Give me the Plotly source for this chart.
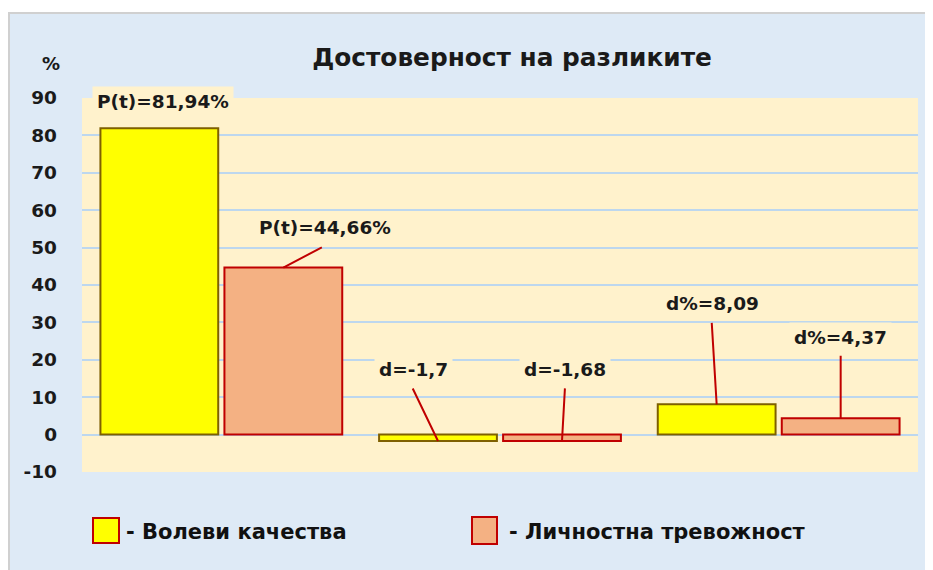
import plotly.graph_objects as go

categories = ["P(t)", "d", "d%"]
series_names = ["- Волеви качества", "- Личностна тревожност"]
volevi = [81.94, -1.7, 8.09]
trevojnost = [44.66, -1.68, 4.37]
labels_volevi = ["P(t)=81,94%", "d=-1,7", "d%=8,09"]
labels_trev = ["P(t)=44,66%", "d=-1,68", "d%=4,37"]
y_ticks = [-10, 0, 10, 20, 30, 40, 50, 60, 70, 80, 90]
title = "Достоверност на разликите"

FONT = "'DejaVu Sans', Verdana, sans-serif"
TXT = "#1a1a1a"
CREAM = "#FFF2CC"
BLUE_BG = "#DEEAF6"
GRID = "#BDD7EE"
YELLOW = "#FFFF00"
YELLOW_LINE = "#7F6000"
SALMON = "#F4B183"
RED = "#C00000"
BARGAP = 0.11
BARGROUPGAP = 0.05

# page has 8px body margin: figure pixel = page pixel - 8
W, H = 933, 562
L, T = 74, 90
R = W - 910
B = H - 464
PW, PH = W - L - R, H - T - B


def px_x(p):
    return (p - 8 - L) / PW


def px_y(p):
    return (H - B - (p - 8)) / PH


fig = go.Figure()
fig.add_trace(go.Bar(x=categories, y=volevi, name=series_names[0],
                     marker=dict(color=YELLOW, line=dict(color=YELLOW_LINE, width=2)),
                     showlegend=False))
fig.add_trace(go.Bar(x=categories, y=trevojnost, name=series_names[1],
                     marker=dict(color=SALMON, line=dict(color=RED, width=2)),
                     showlegend=False))

off = (1 - BARGAP) / 4
lab_font = dict(family=FONT, size=18.5, color=TXT, weight="bold")
annotations = []
# (leader end dx, dy) and (label dx, dy) in pixels relative to the bar top/bottom
vol_place = [None, ((-26, -54), (-25, -71)), ((-5, -83), (-4, -101))]
trev_place = [((40, -21), (42, -40)), ((3, -54), (3, -71)), ((0, -64), (0, -81))]
for i, c in enumerate(categories):
    for val, lab, place, sgn in ((volevi[i], labels_volevi[i], vol_place[i], -1),
                                 (trevojnost[i], labels_trev[i], trev_place[i], 1)):
        xpos = i + sgn * off
        if place is None:
            annotations.append(dict(x=xpos, y=val, xref="x", yref="y", text=lab,
                                    showarrow=False, yshift=27, xshift=4,
                                    bgcolor=CREAM, borderpad=4, font=lab_font))
        else:
            (lx, ly), (tx, ty) = place
            annotations.append(dict(x=xpos, y=val, xref="x", yref="y", text=lab,
                                    showarrow=False, xshift=tx, yshift=-ty,
                                    bgcolor=CREAM, borderpad=4, font=lab_font))
            annotations.append(dict(x=xpos, y=val, xref="x", yref="y", text="",
                                    showarrow=True, arrowhead=0, arrowwidth=2,
                                    arrowcolor=RED, ax=lx, ay=ly,
                                    axref="pixel", ayref="pixel", standoff=0))

annotations.append(dict(x=px_x(51), y=px_y(63), xref="paper", yref="paper", text="%",
                        showarrow=False, xanchor="center", yanchor="middle",
                        font=dict(family=FONT, size=18, color=TXT, weight="bold")))

leg_font = dict(family=FONT, size=21, color="#111111", weight="bold")
annotations.append(dict(x=px_x(124), y=px_y(532), xref="paper", yref="paper",
                        text=series_names[0], showarrow=False, xanchor="left",
                        yanchor="middle", font=leg_font))
annotations.append(dict(x=px_x(507), y=px_y(532), xref="paper", yref="paper",
                        text=series_names[1], showarrow=False, xanchor="left",
                        yanchor="middle", font=leg_font))

shapes = [
    # white page strips outside the chart frame (top and left)
    dict(type="rect", xref="paper", yref="paper", layer="below",
         x0=px_x(0), x1=px_x(990), y0=px_y(13), y1=px_y(-20),
         fillcolor="white", line=dict(width=0)),
    dict(type="rect", xref="paper", yref="paper", layer="below",
         x0=px_x(-20), x1=px_x(9), y0=px_y(640), y1=px_y(-20),
         fillcolor="white", line=dict(width=0)),
    # chart frame
    dict(type="rect", xref="paper", yref="paper", layer="below",
         x0=px_x(9), x1=px_x(990), y0=px_y(640), y1=px_y(13),
         fillcolor=BLUE_BG, line=dict(color="#D0D0D0", width=2)),
    # plot area
    dict(type="rect", xref="paper", yref="paper", layer="below",
         x0=0, x1=1, y0=0, y1=1, fillcolor=CREAM, line=dict(width=0)),
    # legend keys
    dict(type="rect", xref="paper", yref="paper", layer="below",
         x0=px_x(93), x1=px_x(119), y0=px_y(543), y1=px_y(518),
         fillcolor=YELLOW, line=dict(color=RED, width=2)),
    dict(type="rect", xref="paper", yref="paper", layer="below",
         x0=px_x(472), x1=px_x(497), y0=px_y(544), y1=px_y(517),
         fillcolor=SALMON, line=dict(color=RED, width=2)),
]

fig.update_layout(
    width=W, height=H,
    margin=dict(l=L, r=R, t=T, b=B),
    paper_bgcolor=BLUE_BG,
    plot_bgcolor=CREAM,
    barmode="group", bargap=BARGAP, bargroupgap=BARGROUPGAP,
    title=dict(text=title, x=(512 - 8) / W, xanchor="center", y=1 - (57 - 8) / H,
               yanchor="middle",
               font=dict(family=FONT, size=24.8, color=TXT, weight="bold")),
    xaxis=dict(showticklabels=False, showgrid=False, zeroline=False,
               showline=False, ticks=""),
    yaxis=dict(range=[-10, 90], tickvals=y_ticks, ticktext=[str(v) for v in y_ticks],
               showgrid=True, gridcolor=GRID,
               gridwidth=2, zeroline=True, zerolinecolor=GRID, zerolinewidth=2,
               showline=False, ticks="", ticklabelstandoff=24,
               tickfont=dict(family=FONT, size=18.5, color=TXT, weight="bold")),
    annotations=annotations,
    shapes=shapes,
    showlegend=False,
)

fig.write_html("out.html")
